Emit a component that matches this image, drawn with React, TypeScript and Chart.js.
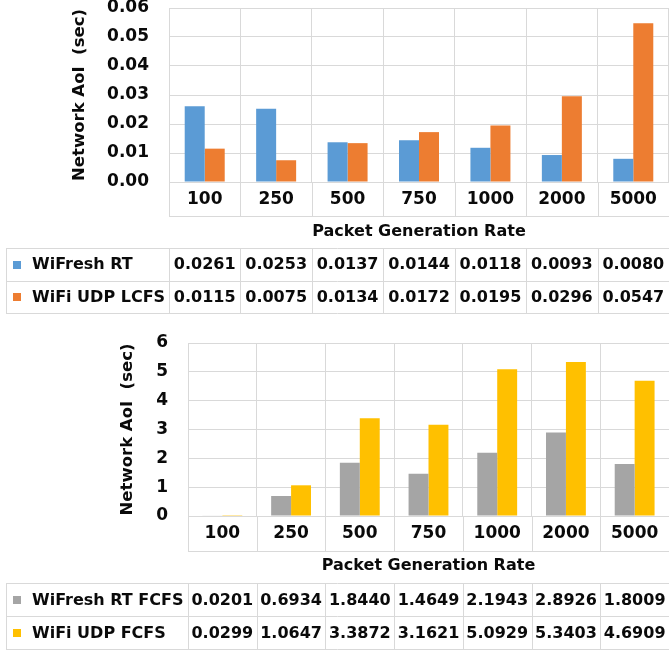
import React, { useEffect, useRef } from "react";
import { Chart, registerables } from "chart.js";

Chart.register(...registerables);

// ---- data ----
const categories = ["100", "250", "500", "750", "1000", "2000", "5000"];
const wifreshRT = [0.0261, 0.0253, 0.0137, 0.0144, 0.0118, 0.0093, 0.008];
const wifiUdpLcfs = [0.0115, 0.0075, 0.0134, 0.0172, 0.0195, 0.0296, 0.0547];
const wifreshRtFcfs = [0.0201, 0.6934, 1.844, 1.4649, 2.1943, 2.8926, 1.8009];
const wifiUdpFcfs = [0.0299, 1.0647, 3.3872, 3.1621, 5.0929, 5.3403, 4.6909];

const topSeriesNames = ["WiFresh RT", "WiFi UDP LCFS"];
const bottomSeriesNames = ["WiFresh RT FCFS", "WiFi UDP FCFS"];
const xTitle = "Packet Generation Rate";
const yTitle = "Network AoI  (sec)";

const FONT = "'DejaVu Sans', sans-serif";
const GRID = "#D9D9D9";
const TEXT = "#0a0a0a";

type Panel = {
  height: number;
  plotTop: number;
  plotLeft: number;
  plotBottom: number;
  labelRowBottom: number;
  xTitleY: number;
  yTitleX: number;
  tableTop: number;
  rowH: number;
  yMax: number;
  yStep: number;
  decimals: number;
  catPct: number;
  names: string[];
  series: number[][];
  colors: string[];
};

function makePlugin(p: Panel) {
  return {
    id: "tableAndGrid",
    afterDraw(chart: any) {
      const { ctx, chartArea } = chart;
      const x = chart.scales.x;
      const n = categories.length;
      const cw = (chartArea.right - chartArea.left) / n;
      const right = chart.width;
      ctx.save();
      ctx.strokeStyle = GRID;
      ctx.lineWidth = 1;
      // label row verticals and bottom line
      ctx.beginPath();
      for (let i = 0; i <= n; i++) {
        const px = Math.round(chartArea.left + i * cw) + 0.5;
        ctx.moveTo(px, chartArea.bottom);
        ctx.lineTo(px, p.labelRowBottom);
      }
      ctx.moveTo(chartArea.left, p.labelRowBottom + 0.5);
      ctx.lineTo(right, p.labelRowBottom + 0.5);
      // table
      const tLeft = 6;
      const rows = p.series.length;
      for (let r = 0; r <= rows; r++) {
        const py = Math.round(p.tableTop + r * p.rowH) + 0.5;
        ctx.moveTo(tLeft, py);
        ctx.lineTo(right, py);
      }
      const tBottom = p.tableTop + rows * p.rowH;
      ctx.moveTo(tLeft + 0.5, p.tableTop);
      ctx.lineTo(tLeft + 0.5, tBottom);
      for (let i = 0; i <= n; i++) {
        const px = Math.round(chartArea.left + i * cw) + 0.5;
        ctx.moveTo(px, p.tableTop);
        ctx.lineTo(px, tBottom);
      }
      ctx.stroke();
      // text
      ctx.fillStyle = TEXT;
      ctx.font = `bold 16px ${FONT}`;
      ctx.textBaseline = "middle";
      for (let r = 0; r < rows; r++) {
        const cy = p.tableTop + (r + 0.5) * p.rowH + 1;
        ctx.fillStyle = p.colors[r];
        ctx.fillRect(13, Math.round(cy - 4.5), 8, 8);
        ctx.fillStyle = TEXT;
        ctx.textAlign = "left";
        ctx.fillText(p.names[r], 32, cy);
        ctx.textAlign = "center";
        for (let i = 0; i < n; i++) {
          const cx = x.getPixelForValue(i);
          ctx.fillText(p.series[r][i].toFixed(4), cx, cy);
        }
      }
      ctx.restore();
    },
  };
}

function PanelChart({ p, top }: { p: Panel; top: number }) {
  const ref = useRef<HTMLCanvasElement | null>(null);
  useEffect(() => {
    if (!ref.current) return;
    const chart = new Chart(ref.current, {
      type: "bar",
      data: {
        labels: categories,
        datasets: p.series.map((s, i) => ({
          label: p.names[i],
          data: s,
          backgroundColor: p.colors[i],
          borderWidth: 0,
          categoryPercentage: p.catPct,
          barPercentage: 1,
        })),
      },
      options: {
        responsive: false,
        animation: false,
        layout: { padding: { top: p.plotTop, left: 0, right: 0, bottom: 0 } },
        plugins: { legend: { display: false }, tooltip: { enabled: false } },
        scales: {
          x: {
            grid: { color: GRID, drawTicks: false, offset: true },
            border: { color: GRID },
            ticks: {
              color: TEXT,
              padding: 7,
              font: { family: FONT, size: 17, weight: "bold" },
              maxRotation: 0,
              autoSkip: false,
            },
            title: {
              display: true,
              text: xTitle,
              color: TEXT,
              font: { family: FONT, size: 16, weight: "bold" },
              padding: { top: 0, bottom: p.height - p.xTitleY - 9.6 },
            },
            afterFit(scale: any) {
              scale.height = p.height - p.plotBottom;
            },
          },
          y: {
            min: 0,
            max: p.yMax,
            grid: { color: GRID, drawTicks: true, tickLength: 20, tickColor: "rgba(0,0,0,0)" },
            border: { color: GRID },
            ticks: {
              stepSize: p.yStep,
              color: TEXT,
              padding: 0,
              font: { family: FONT, size: 17, weight: "bold", lineHeight: 0.9 },
              callback: (v: any) => Number(v).toFixed(p.decimals),
            },
            title: {
              display: true,
              text: yTitle,
              color: TEXT,
              font: { family: FONT, size: 16.5, weight: "bold" },
              padding: { top: p.yTitleX - 9.9, bottom: 0 },
            },
            afterFit(scale: any) {
              scale.width = p.plotLeft;
            },
          },
        },
      },
      plugins: [makePlugin(p)],
    } as any);
    return () => chart.destroy();
  }, [p]);
  return (
    <canvas
      ref={ref}
      width={669}
      height={p.height}
      style={{ position: "absolute", left: 0, top, width: 669, height: p.height }}
    />
  );
}

const topPanel: Panel = {
  height: 320,
  plotTop: 8,
  plotLeft: 169,
  plotBottom: 182,
  labelRowBottom: 216,
  xTitleY: 232,
  yTitleX: 80,
  tableTop: 248,
  rowH: 32.5,
  yMax: 0.06,
  yStep: 0.01,
  decimals: 2,
  catPct: 0.56,
  names: topSeriesNames,
  series: [wifreshRT, wifiUdpLcfs],
  colors: ["#5B9BD5", "#ED7D31"],
};

const bottomPanel: Panel = {
  height: 331,
  plotTop: 23,
  plotLeft: 188,
  plotBottom: 196,
  labelRowBottom: 231,
  xTitleY: 246,
  yTitleX: 128,
  tableTop: 263,
  rowH: 33,
  yMax: 6,
  yStep: 1,
  decimals: 0,
  catPct: 0.58,
  names: bottomSeriesNames,
  series: [wifreshRtFcfs, wifiUdpFcfs],
  colors: ["#A5A5A5", "#FFC000"],
};

export default function App() {
  return (
    <div style={{ position: "absolute", left: 0, top: 0, width: 669, height: 651, background: "#fff" }}>
      <PanelChart p={topPanel} top={0} />
      <PanelChart p={bottomPanel} top={320} />
    </div>
  );
}
